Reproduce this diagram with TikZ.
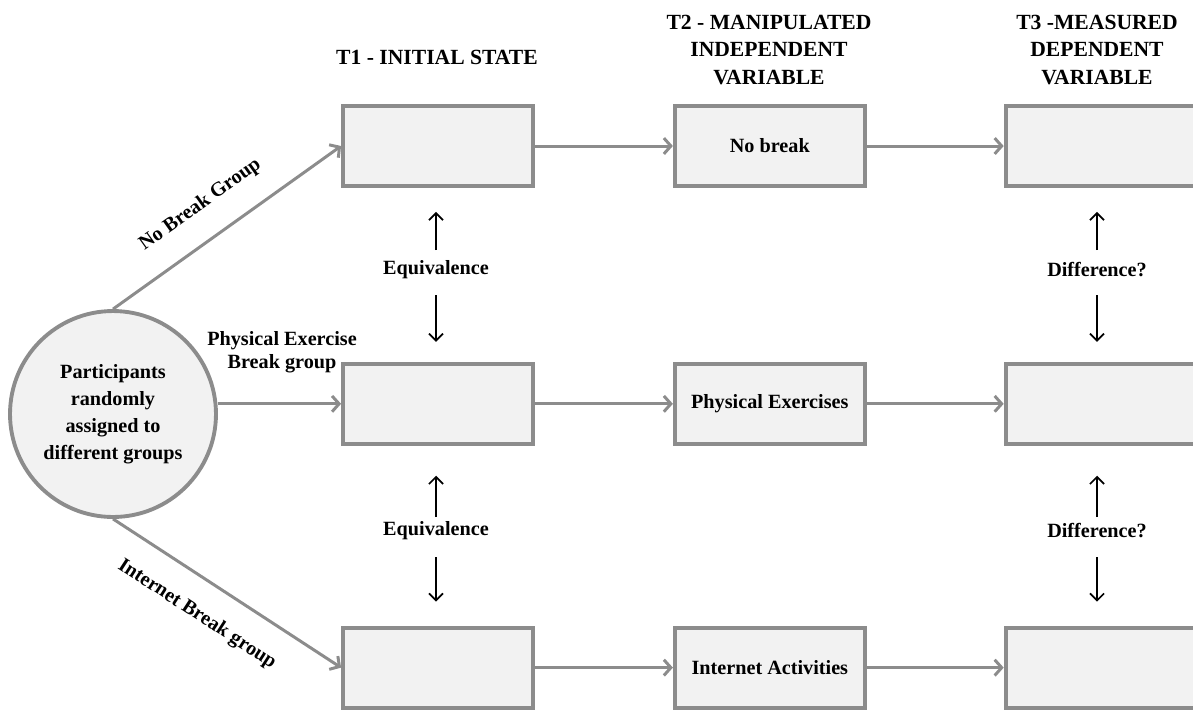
\documentclass[tikz,border=0pt]{standalone}
\usepackage{fontspec}
\setmainfont{Liberation Serif}
\usepackage{xcolor}
\definecolor{boxline}{RGB}{140, 140, 140}
\definecolor{boxfill}{RGB}{242, 242, 242}
\usepackage{tikz}
\usetikzlibrary{positioning, arrows.meta}

\begin{document}
\begin{tikzpicture}[
  x=0.02cm, y=-0.02cm,
  cell/.style={rectangle, draw=boxline, fill=boxfill, line width=2.2pt, minimum width=3.8cm, minimum height=1.6cm, align=center, font=\fontsize{11.5}{14}\selectfont\bfseries},
  pool/.style={circle, draw=boxline, fill=boxfill, line width=2.2pt, minimum size=4.12cm, inner sep=0pt, align=center, font=\fontsize{11.5}{15.4}\selectfont\bfseries},
  hdr/.style={align=center, font=\fontsize{12.3}{15.6}\selectfont\bfseries},
  lab/.style={align=center, font=\fontsize{11.5}{13}\selectfont\bfseries},
  link/.style={draw=boxline, line width=1.7pt, -{Straight Barb[length=4pt, width=9pt]}},
  cue/.style={draw=black, line width=1pt, -{Straight Barb[length=4pt, width=8pt]}}
]
  \useasboundingbox (0,0) rectangle (1193,711);

  % Headers
  \node[hdr] (t1) at (437,57) {T1 - INITIAL STATE};
  \node[hdr] (t2) at (769,50) {T2 - MANIPULATED\\INDEPENDENT\\VARIABLE};
  \node[hdr] (t3) at (1097,50) {T3 -MEASURED\\DEPENDENT\\VARIABLE};

  % Nodes
  \node[pool] (circ) at (113,414) {Participants\\randomly\\assigned to\\different groups};
  \node[cell] (b11) at (438,146) {};
  \node[cell, right=2.76cm of b11] (b12) {No break};
  \node[cell, right=2.74cm of b12] (b13) {};
  \node[cell, below=3.48cm of b11] (b21) {};
  \node[cell, right=2.76cm of b21] (b22) {Physical Exercises};
  \node[cell, right=2.74cm of b22] (b23) {};
  \node[cell, below=3.6cm of b21] (b31) {};
  \node[cell, right=2.76cm of b31] (b32) {Internet Activities};
  \node[cell, right=2.74cm of b32] (b33) {};

  \node[lab] (pelab) at (282,352) {Physical Exercise\\Break group};
  \node[lab] (eq1) at (436,270) {Equivalence};
  \node[lab] (eq2) at (436,531) {Equivalence};
  \node[lab] (df1) at (1097,270) {Difference?};
  \node[lab] (df2) at (1097,531) {Difference?};

  % Arrows
  \draw[link] (circ.north) -- node[lab, sloped, above=10pt, pos=0.47] {No Break Group} (b11.west);
  \draw[link] (circ.east |- b21.west) -- (b21.west);
  \draw[link] (circ.south) -- node[lab, sloped, below=10pt, pos=0.45] {Internet Break group} (b31.west);
  \foreach \r in {1,2,3} {
    \draw[link] (b\r1.east) -- (b\r2.west);
    \draw[link] (b\r2.east) -- (b\r3.west);
  }

  \draw[cue, shorten <=0.4cm, shorten >=0.48cm] (eq1.center) -- (eq1 |- b11.south);
  \draw[cue, shorten <=0.5cm, shorten >=0.4cm] (eq1.center) -- (eq1 |- b21.north);
  \draw[cue, shorten <=0.28cm, shorten >=0.6cm] (eq2.center) -- (eq2 |- b21.south);
  \draw[cue, shorten <=0.52cm, shorten >=0.48cm] (eq2.center) -- (eq2 |- b31.north);
  \draw[cue, shorten <=0.4cm, shorten >=0.48cm] (df1.center) -- (df1 |- b13.south);
  \draw[cue, shorten <=0.5cm, shorten >=0.4cm] (df1.center) -- (df1 |- b23.north);
  \draw[cue, shorten <=0.28cm, shorten >=0.6cm] (df2.center) -- (df2 |- b23.south);
  \draw[cue, shorten <=0.52cm, shorten >=0.48cm] (df2.center) -- (df2 |- b33.north);
\end{tikzpicture}
\end{document}
